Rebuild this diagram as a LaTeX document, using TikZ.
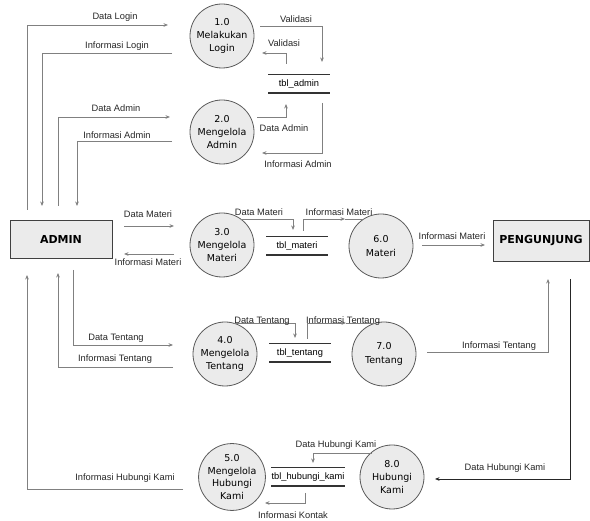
\documentclass[tikz,border=0pt]{standalone}
\usepackage{fontspec}
\usetikzlibrary{arrows.meta}
\newfontfamily\lblfont{Liberation Sans}
\newfontfamily\procfont{DejaVu Sans}
\newcommand\mylbl{\lblfont\fontsize{9.3}{11}\selectfont}
\newcommand\myproc{\procfont\fontsize{9.5}{13.2}\selectfont}
\newcommand\myent{\procfont\bfseries\fontsize{11}{13}\selectfont}
\definecolor{fillgray}{HTML}{EBEBEB}
\definecolor{linegray}{HTML}{808080}
\definecolor{circgray}{HTML}{5A5A5A}
\begin{document}
\begin{tikzpicture}[x=1pt,y=-1pt,
  flow/.style={draw=linegray, line width=0.8pt, -{Stealth[length=4.5pt,width=3.6pt]}},
  plain/.style={draw=linegray, line width=0.8pt},
  darkflow/.style={draw=black!85, line width=0.9pt, -{Stealth[length=4.5pt,width=3.6pt]}},
  lbl/.style={font=\mylbl, inner sep=0pt, text=black!85},
  proc/.style={circle, draw=circgray, fill=fillgray, line width=0.8pt, minimum size=64pt, inner sep=0pt, align=center, font=\myproc},
  ent/.style={rectangle, draw=black!75, fill=fillgray, line width=0.8pt, minimum width=102pt, minimum height=38pt, inner sep=0pt, font=\myent},
  store/.style={minimum width=61pt, minimum height=18pt, inner sep=0pt, font=\mylbl},
  storeline/.style={draw=black!80, line width=1.4pt}]
\useasboundingbox (0,0) rectangle (590,521);

% entities
\node[ent] (admin) at (61,239) {ADMIN};
\node[ent, minimum width=96pt, minimum height=41pt] (peng) at (541,240.5) {PENGUNJUNG};

% processes
\node[proc] (p1) at (222,36) {1.0\\Melakukan\\Login};
\node[proc] (p2) at (222,132) {2.0\\Mengelola\\Admin};
\node[proc] (p3) at (222,245) {3.0\\Mengelola\\Materi};
\node[proc] (p4) at (225,354) {4.0\\Mengelola\\Tentang};
\node[proc, font=\procfont\fontsize{9.5}{12.8}\selectfont] (p5) at (232,477) {5.0\\Mengelola\\Hubungi\\Kami};
\node[proc] (p6) at (381,246) {6.0\\Materi};
\node[proc] (p7) at (384,354) {7.0\\Tentang};
\node[proc] (p8) at (392,477) {8.0\\Hubungi\\Kami};

% stores
\node[store] (s1) at (299,84) {tbl\_admin};
\node[store] (s2) at (297,246) {tbl\_materi};
\node[store] (s3) at (300,353) {tbl\_tentang};
\node[store, minimum width=62pt] (s4) at (308,477) {tbl\_hubungi\_kami};
\foreach \s in {s1,s2,s3,s4}{
  \draw[storeline] (\s.north west) -- (\s.north east);
  \draw[storeline] (\s.south west) -- (\s.south east);
}

% free ends
\coordinate (a1) at (27,210);   \coordinate (a2) at (42,206);
\coordinate (a3) at (58,206);   \coordinate (a4) at (77,206);
\coordinate (a5) at (73,270);   \coordinate (a6) at (58,273);
\coordinate (a7) at (27,275);

% Admin <-> 1.0 / 2.0
\draw[flow] (a1) |- (168,25);
\node[lbl] (l1) at (115,17) {Data Login};
\draw[flow] (172,53) -| (a2);
\node[lbl] (l2) at (117,46) {Informasi Login};
\draw[flow] (a3) |- (170,117);
\node[lbl] (l3) at (116,108) {Data Admin};
\draw[flow] (172,141) -| (a4);
\node[lbl] (l4) at (117,135) {Informasi Admin};

% 1.0 / 2.0 <-> tbl_admin
\draw[flow] (260,26) -| (322,62);
\node[lbl] (l5) at (296,19) {Validasi};
\draw[flow] (286,64) |- (262,53);
\node[lbl] (l6) at (284,43) {Validasi};
\draw[flow] (257,117) -| (286,104);
\node[lbl] (l7) at (284,128) {Data Admin};
\draw[flow] (322,103) |- (262,153);
\node[lbl] (l8) at (298,164) {Informasi Admin};

% Materi
\draw[flow] (124,226) -- (174,226);
\node[lbl] (l9) at (148,214) {Data Materi};
\draw[flow] (174,254) -- (124,254);
\node[lbl] (l10) at (148,262) {Informasi Materi};
\draw[flow] (241,219) -| (293,230);
\node[lbl] (l11) at (259,212) {Data Materi};
\draw[flow] (303,231) |- (345,219);
\draw[plain] (345,219) -- (364,219);
\node[lbl] (l12) at (339,212) {Informasi Materi};
\draw[flow] (422,245) -- (485,245);
\node[lbl] (l13) at (452,236) {Informasi Materi};

% Tentang
\draw[flow] (a5) |- (173,345);
\node[lbl] (l14) at (116,338) {Data Tentang};
\draw[flow] (173,367) -| (a6);
\node[lbl] (l15) at (115,359) {Informasi Tentang};
\draw[flow] (233,323) -| (295,338);
\node[lbl] (l16) at (262,321) {Data Tentang};
\draw[flow] (307,339) |- (346,323);
\draw[plain] (346,323) -- (376,323);
\node[lbl] (l17) at (343,321) {Informasi Tentang};
\draw[flow] (427,352) -| (548,279);
\node[lbl] (l18) at (499,346) {Informasi Tentang};

% Hubungi Kami
\draw[flow] (183,489) -| (a7);
\node[lbl] (l19) at (125,478) {Informasi Hubungi Kami};
\draw[darkflow] (570,279) |- (435,479);
\node[lbl] (l20) at (505,468) {Data Hubungi Kami};
\draw[flow] (372,453) -| (313,463);
\node[lbl] (l21) at (336,445) {Data Hubungi Kami};
\draw[flow] (305,493) |- (265,503);
\node[lbl] (l22) at (293,515) {Informasi Kontak};
\end{tikzpicture}
\end{document}
